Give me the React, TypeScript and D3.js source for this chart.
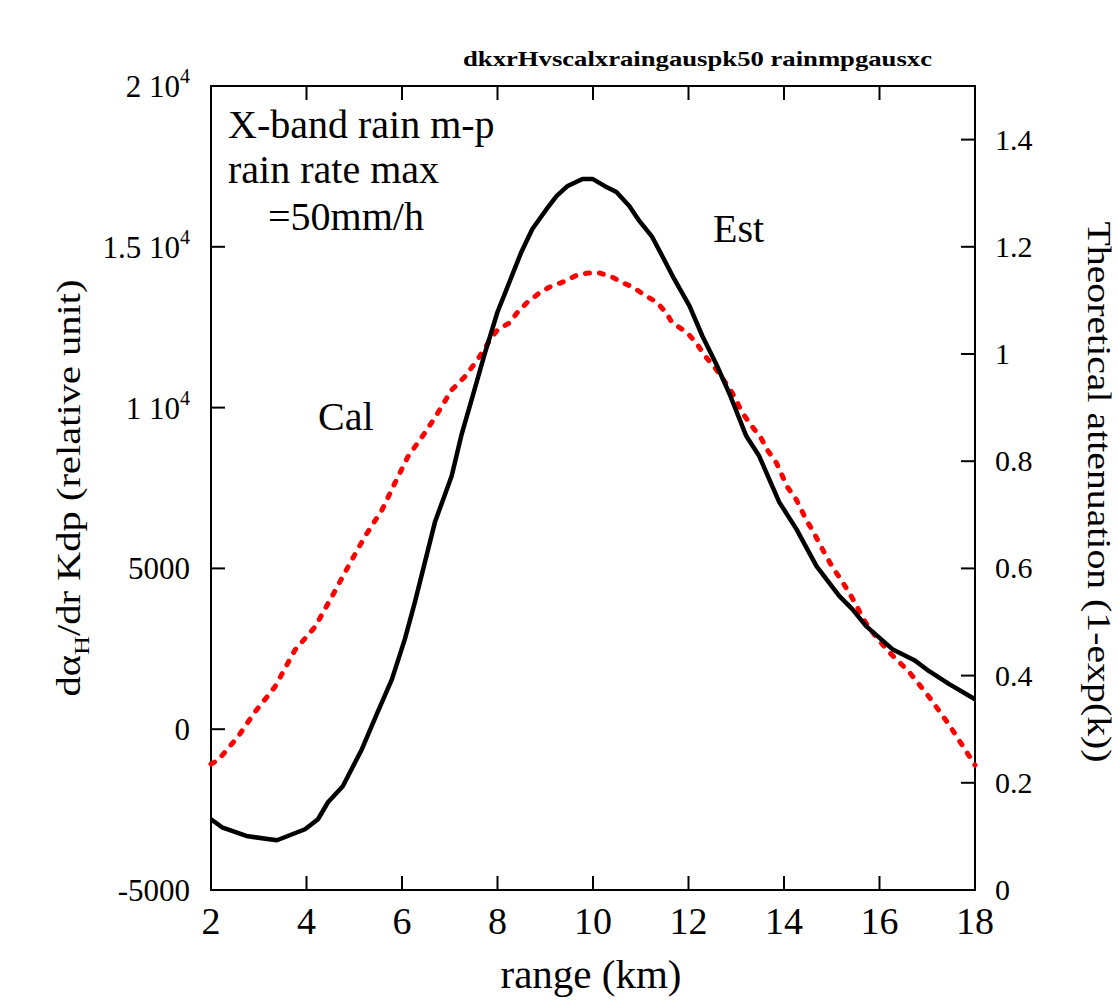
import React from "react";
import * as d3 from "d3";

const W = 1119;
const H = 1002;

const xTicks = [2, 4, 6, 8, 10, 12, 14, 16, 18];
const leftTicks = [-5000, 0, 5000, 10000, 15000, 20000];
const leftTickLabels = [["-5000", ""], ["0", ""], ["5000", ""], ["1 10", "4"], ["1.5 10", "4"], ["2 10", "4"]];
const rightTicks = [0, 0.2, 0.4, 0.6, 0.8, 1, 1.2, 1.4];
const rightTickLabels = ["0", "0.2", "0.4", "0.6", "0.8", "1", "1.2", "1.4"];

// Est (black, left axis)
const estKm = [2.0, 2.23, 2.77, 3.38, 3.97, 4.24, 4.45, 4.76, 5.16, 5.49, 5.79, 6.06, 6.27, 6.69, 7.04, 7.25, 7.48, 7.73, 8.0, 8.25, 8.5, 8.73, 9.03, 9.24, 9.47, 9.78, 9.99, 10.24, 10.49, 10.76, 10.97, 11.24, 11.45, 11.7, 12.02, 12.29, 12.58, 12.86, 13.21, 13.48, 13.9, 14.26, 14.68, 15.16, 15.43, 15.72, 16.27, 16.73, 17.04, 17.46, 18.0];
const estVal = [-2800, -3049, -3329, -3453, -3111, -2800, -2271, -1773, -622, 529, 1556, 2800, 3951, 6440, 7871, 9177, 10360, 11666, 12973, 13906, 14840, 15555, 16177, 16582, 16893, 17111, 17111, 16893, 16706, 16270, 15804, 15306, 14715, 14000, 13160, 12226, 11355, 10422, 9115, 8493, 7062, 6222, 5071, 4138, 3733, 3204, 2489, 2147, 1804, 1400, 933];

// Cal (red dotted, right axis)
const calKm = [2.0, 2.15, 2.56, 2.92, 3.34, 3.76, 4.18, 4.53, 4.87, 5.22, 5.58, 5.85, 6.12, 6.48, 6.75, 7.04, 7.31, 7.58, 7.84, 8.0, 8.25, 8.42, 8.63, 8.88, 9.09, 9.36, 9.66, 9.89, 10.14, 10.39, 10.6, 10.83, 11.08, 11.33, 11.54, 11.66, 11.96, 12.17, 12.33, 12.54, 12.71, 12.92, 13.13, 13.34, 13.52, 13.65, 13.84, 14.07, 14.26, 14.47, 14.63, 14.78, 15.01, 15.2, 15.37, 15.51, 15.64, 15.78, 15.99, 16.2, 16.62, 17.04, 17.46, 18.0];
const calVal = [0.235, 0.2425, 0.2854, 0.332, 0.379, 0.448, 0.491, 0.547, 0.603, 0.659, 0.709, 0.759, 0.808, 0.853, 0.89, 0.933, 0.957, 0.989, 1.026, 1.045, 1.058, 1.078, 1.097, 1.114, 1.125, 1.134, 1.147, 1.151, 1.151, 1.144, 1.134, 1.125, 1.11, 1.097, 1.076, 1.058, 1.041, 1.02, 0.998, 0.976, 0.955, 0.927, 0.89, 0.864, 0.843, 0.821, 0.797, 0.752, 0.728, 0.69, 0.666, 0.64, 0.603, 0.578, 0.554, 0.532, 0.509, 0.489, 0.466, 0.444, 0.407, 0.36, 0.308, 0.233];

const title = "dkxrHvscalxraingauspk50 rainmpgausxc";
const noteLines = ["X-band rain m-p", "rain rate max", "=50mm/h"];

export default function App() {
  const L = 211, R = 975, T = 86, B = 890;
  const x = d3.scaleLinear().domain([2, 18]).range([L, R]);
  const yL = d3.scaleLinear().domain([-5000, 20000]).range([B, T]);
  const yR = d3.scaleLinear().domain([0, 1.5]).range([B, T]);

  const estLine = d3.line<number>().x((_, i) => x(estKm[i])).y((d) => yL(d));
  const calLine = d3.line<number>().x((_, i) => x(calKm[i])).y((d) => yR(d));

  const font = "'Liberation Serif', 'Times New Roman', serif";
  const tickLen = 14;

  return (
    <svg width={W} height={H} style={{ position: "absolute", left: 0, top: 0, background: "#fff" }} fontFamily={font}>
      <rect x={0} y={0} width={W} height={H} fill="#fff" />
      {/* title */}
      <text x={463} y={66} fontSize={21} fontWeight="bold" textLength={469} lengthAdjust="spacingAndGlyphs">{title}</text>

      {/* frame */}
      <rect x={L} y={T} width={R - L} height={B - T} fill="none" stroke="#000" strokeWidth={2} />

      {/* x ticks */}
      {xTicks.map((t) => (
        <g key={"x" + t}>
          <line x1={x(t)} x2={x(t)} y1={B} y2={B - tickLen} stroke="#000" strokeWidth={2} />
          <line x1={x(t)} x2={x(t)} y1={T} y2={T + tickLen} stroke="#000" strokeWidth={2} />
          <text x={x(t)} y={934} fontSize={38} textAnchor="middle">{t}</text>
        </g>
      ))}
      <text x={(L + R) / 2 - 2} y={988} fontSize={41} textAnchor="middle">range (km)</text>

      {/* left ticks */}
      {leftTicks.map((t, i) => (
        <g key={"l" + t}>
          <line x1={L} x2={L + tickLen} y1={yL(t)} y2={yL(t)} stroke="#000" strokeWidth={2} />
          <text x={190} y={yL(t) + 11} fontSize={31} textAnchor="end">
            {leftTickLabels[i][0]}
            {leftTickLabels[i][1] ? (
              <tspan fontSize={20} dy={-14}>{leftTickLabels[i][1]}</tspan>
            ) : null}
          </text>
        </g>
      ))}

      {/* right ticks */}
      {rightTicks.map((t, i) => (
        <g key={"r" + t}>
          <line x1={R} x2={R - tickLen} y1={yR(t)} y2={yR(t)} stroke="#000" strokeWidth={2} />
          <text x={995} y={yR(t) + 10} fontSize={30}>{rightTickLabels[i]}</text>
        </g>
      ))}

      {/* left axis label */}
      <text transform="translate(80,488) rotate(-90)" fontSize={34} textAnchor="middle" textLength={417} lengthAdjust="spacingAndGlyphs">
        dα<tspan fontSize={22} dy={9}>H</tspan><tspan dy={-9}>/dr Kdp (relative unit)</tspan>
      </text>

      {/* right axis label */}
      <text transform="translate(1088,492) rotate(90)" fontSize={33} textAnchor="middle" textLength={541} lengthAdjust="spacingAndGlyphs">
        Theoretical attenuation (1-exp(k))
      </text>

      {/* curves */}
      <path d={calLine(calVal) || ""} fill="none" stroke="#ff0000" strokeWidth={5} strokeDasharray="4 10" strokeLinecap="round" />
      <path d={estLine(estVal) || ""} fill="none" stroke="#000" strokeWidth={4.5} strokeLinejoin="round" />

      {/* annotations */}
      <text x={228} y={138} fontSize={40}>{noteLines[0]}</text>
      <text x={228} y={183} fontSize={40}>{noteLines[1]}</text>
      <text x={268} y={230} fontSize={40}>{noteLines[2]}</text>
      <text x={318} y={430} fontSize={40}>Cal</text>
      <text x={713} y={242} fontSize={40}>Est</text>
    </svg>
  );
}
